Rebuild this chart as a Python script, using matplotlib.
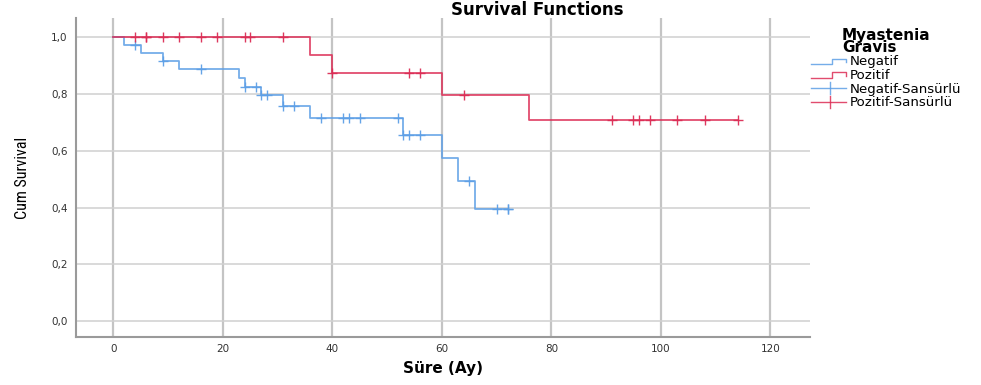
import matplotlib
matplotlib.use("Agg")
import matplotlib.pyplot as plt
from matplotlib.lines import Line2D
from matplotlib.legend_handler import HandlerBase
from matplotlib.ticker import FuncFormatter
from matplotlib import font_manager

# ---- data ----
neg_times = [0, 2, 5, 9, 12, 23, 24, 27, 31, 36, 53, 60, 63, 66]
neg_surv = [1.0, 0.971, 0.943, 0.916, 0.887, 0.857, 0.826, 0.795, 0.757, 0.715, 0.655, 0.574, 0.492, 0.394]
neg_end = 72
neg_cens = [4, 9, 16, 24, 26, 27, 28, 31, 33, 38, 42, 43, 45, 52, 53, 54, 56, 65, 70, 72, 72]

pos_times = [0, 36, 40, 60, 76]
pos_surv = [1.0, 0.9375, 0.875, 0.795, 0.707]
pos_end = 114
pos_cens = [4, 6, 6, 9, 12, 16, 19, 24, 25, 31, 40, 54, 56, 64, 91, 95, 96, 98, 103, 108, 114]

xticks = [0, 20, 40, 60, 80, 100, 120]
yticks = [0.0, 0.2, 0.4, 0.6, 0.8, 1.0]
legend_labels = ["Negatif", "Pozitif", "Negatif-Sansürlü", "Pozitif-Sansürlü"]

BLUE = "#5d9fe6"
RED = "#dc2d55"

def surv_at(times, surv, t):
    s = surv[0]
    for ti, si in zip(times, surv):
        if t >= ti:
            s = si
    return s

names = {f.name for f in font_manager.fontManager.ttflist}
def pick(cands):
    for c in cands:
        if c in names:
            return c
    return "DejaVu Sans"
narrow = pick(["Liberation Sans Narrow", "DejaVu Sans Condensed", "Roboto Condensed", "Liberation Sans"])

fig = plt.figure(figsize=(9.81, 3.85), dpi=100)
ax = fig.add_axes([0.0775, 0.1247, 0.748, 0.8283])

for times, surv, end, cens, col in [
    (neg_times, neg_surv, neg_end, neg_cens, BLUE),
    (pos_times, pos_surv, pos_end, pos_cens, RED),
]:
    xs = list(times) + [end]
    ys = list(surv) + [surv[-1]]
    ax.step(xs, ys, where="post", color=col, lw=1.3, alpha=0.85, zorder=3)
    cy = [surv_at(times, surv, c) for c in cens]
    ax.plot(cens, cy, ls="none", marker="+", ms=6.5, mew=1.0, color=col, alpha=0.95, zorder=4)

ax.set_xlim(-6.8, 127.2)
ax.set_ylim(-0.056, 1.067)
ax.set_xticks(xticks)
ax.set_yticks(yticks)
ax.yaxis.set_major_formatter(FuncFormatter(lambda v, p: f"{v:.1f}".replace(".", ",")))
ax.tick_params(length=0, labelsize=7.5, colors="#333333")
ax.tick_params(axis="x", pad=5)
ax.tick_params(axis="y", pad=6)
ax.grid(True, axis="x", color="#c4c4c4", lw=1.6, zorder=0)
ax.grid(True, axis="y", color="#d0d0d0", lw=1.1, zorder=0)
for s in ["top", "right"]:
    ax.spines[s].set_visible(False)
for s in ["left", "bottom"]:
    ax.spines[s].set_color("#9a9a9a")
    ax.spines[s].set_linewidth(1.5)

fig.text(537 / 981, 1 - 10 / 385, "Survival Functions", fontsize=12, fontweight="bold",
         ha="center", va="center")
ax.set_xlabel("Süre (Ay)", fontsize=11, fontweight="bold", labelpad=5)
ax.set_ylabel("Cum Survival", fontsize=11.5, family=narrow, labelpad=15)


class StepHandler(HandlerBase):
    def create_artists(self, legend, orig_handle, xdescent, ydescent, width, height, fontsize, trans):
        col = orig_handle.get_color()
        y0 = height * 0.15
        y1 = height * 0.8
        xm = width * 0.6
        line = Line2D([0, xm, xm, width, width], [y0, y0, y1, y1, height * 0.35],
                      color=col, lw=1.0, alpha=0.85, transform=trans)
        return [line]


class CensHandler(HandlerBase):
    def create_artists(self, legend, orig_handle, xdescent, ydescent, width, height, fontsize, trans):
        col = orig_handle.get_color()
        h = Line2D([0, width], [height / 2, height / 2], color=col, lw=1.0, alpha=0.85, transform=trans)
        v = Line2D([width * 0.55, width * 0.55], [-height * 0.2, height * 1.2], color=col, lw=1.0,
                   alpha=0.85, transform=trans)
        return [h, v]


h_neg = Line2D([], [], color=BLUE)
h_pos = Line2D([], [], color=RED)
h_negc = Line2D([], [], color=BLUE, marker="+")
h_posc = Line2D([], [], color=RED, marker="+")

leg = fig.legend(
    [h_neg, h_pos, h_negc, h_posc], legend_labels,
    handler_map={h_neg: StepHandler(), h_pos: StepHandler(), h_negc: CensHandler(), h_posc: CensHandler()},
    loc="upper left", bbox_to_anchor=(811 / 981, 1 - 28 / 385), frameon=False,
    fontsize=9.6, title="Myastenia\nGravis", handlelength=2.6, handletextpad=0.3,
    labelspacing=0.05, borderaxespad=0, borderpad=0, handleheight=0.6,
)
leg.get_title().set_fontweight("bold")
leg.get_title().set_fontsize(11)
leg.get_title().set_linespacing(0.72)

fig.savefig("out.png", dpi=100)
